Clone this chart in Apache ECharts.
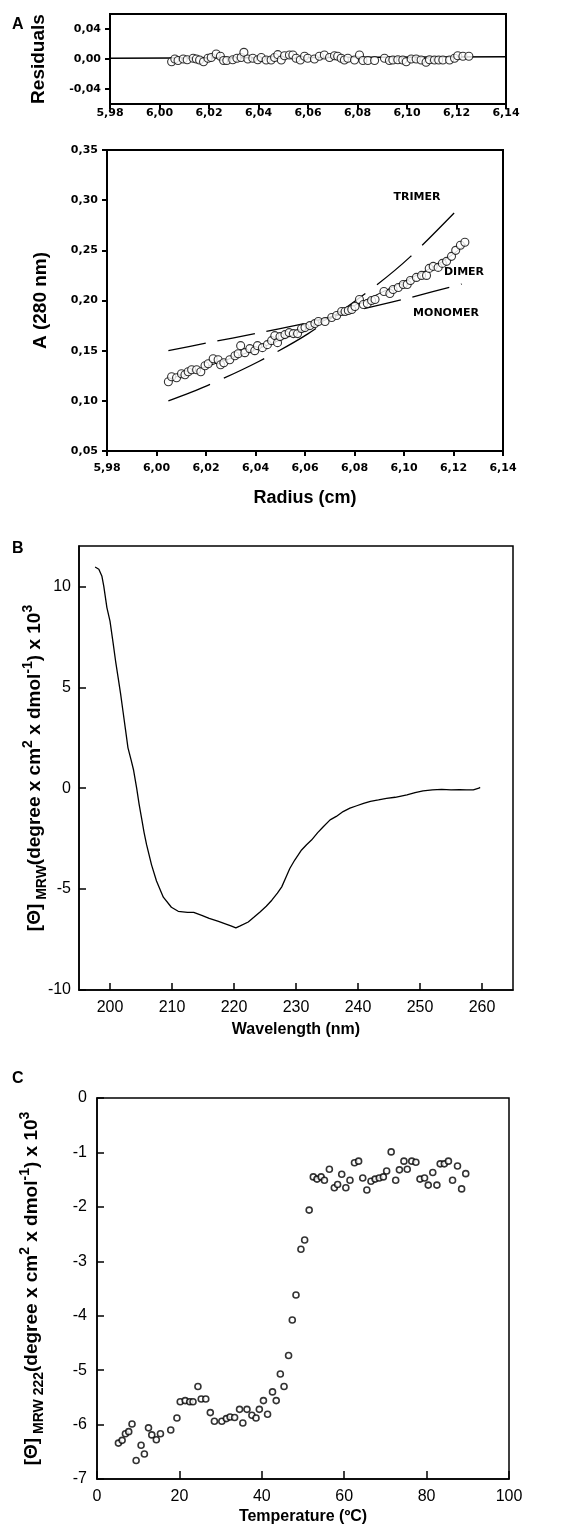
<!DOCTYPE html>
<html>
<head>
<meta charset="utf-8">
<script src="https://cdn.jsdelivr.net/npm/echarts@6/dist/echarts.min.js"></script>
<style>
html,body{margin:0;padding:0;background:#fff;}
#chart{width:570px;height:1526px;}
</style>
</head>
<body>
<div id="chart"></div>
<script>
// ---------- Panel A: residuals ----------
const resRadius = [6.0049,6.0062,6.0075,6.0096,6.0112,6.0136,6.0149,6.0162,6.0178,6.0196,6.0209,6.0229,6.0246,6.0259,6.0272,6.0296,6.0313,6.0330,6.0341,6.0357,6.0377,6.0397,6.0411,6.0431,6.0451,6.0465,6.0478,6.0492,6.0505,6.0525,6.0539,6.0552,6.0569,6.0586,6.0599,6.0626,6.0646,6.0666,6.0687,6.0707,6.0720,6.0734,6.0747,6.0761,6.0788,6.0808,6.0822,6.0842,6.0869,6.0909,6.0929,6.0943,6.0963,6.0983,6.0997,6.1017,6.1037,6.1057,6.1077,6.1091,6.1111,6.1128,6.1145,6.1172,6.1192,6.1205,6.1226,6.1250];
const resValues = [-0.0036,0,-0.002,0,-0.001,0.001,0,-0.0013,-0.0036,0.001,0.002,0.0067,0.0036,-0.002,-0.002,-0.001,0.001,0.002,0.0089,0,0.001,-0.001,0.002,-0.0013,-0.0013,0.002,0.0058,-0.0013,0.0044,0.0053,0.0053,0.001,-0.0013,0.0036,0.001,0,0.0036,0.0053,0.002,0.0044,0.0036,0.001,-0.0013,0.001,-0.0013,0.0053,-0.002,-0.002,-0.002,0.001,-0.002,-0.0013,-0.001,-0.0013,-0.0036,0,0,-0.0013,-0.0044,-0.001,-0.0013,-0.0013,-0.0013,-0.0013,0.001,0.0044,0.0036,0.0036];
const resLineRadius = [5.98, 6.14];
const resLineValues = [0.001, 0.003];
const resYTicks = [-0.04, 0, 0.04];
const resYTickLabels = ['-0,04', '0,00', '0,04'];

// ---------- Panel A: absorbance ----------
const absRadius = [6.0048,6.0061,6.0081,6.0101,6.0115,6.0128,6.0142,6.0162,6.0179,6.0196,6.0209,6.0229,6.0249,6.0259,6.0272,6.0296,6.0317,6.0330,6.0340,6.0357,6.0377,6.0397,6.0408,6.0428,6.0448,6.0465,6.0478,6.0489,6.0499,6.0519,6.0536,6.0553,6.0570,6.0586,6.0600,6.0620,6.0640,6.0654,6.0681,6.0708,6.0728,6.0748,6.0762,6.0775,6.0789,6.0802,6.0820,6.0836,6.0852,6.0869,6.0883,6.0919,6.0943,6.0956,6.0977,6.0997,6.1013,6.1026,6.1050,6.1071,6.1091,6.1102,6.1118,6.1138,6.1155,6.1172,6.1192,6.1209,6.1228,6.1246];
const absValues = [0.119,0.124,0.123,0.127,0.126,0.129,0.131,0.131,0.129,0.135,0.137,0.142,0.141,0.136,0.138,0.141,0.145,0.147,0.155,0.148,0.152,0.150,0.155,0.153,0.156,0.160,0.165,0.158,0.164,0.166,0.168,0.167,0.167,0.172,0.173,0.175,0.177,0.179,0.179,0.183,0.185,0.189,0.189,0.190,0.191,0.194,0.201,0.196,0.197,0.200,0.201,0.209,0.207,0.211,0.213,0.216,0.216,0.220,0.223,0.225,0.225,0.232,0.234,0.233,0.237,0.239,0.244,0.250,0.255,0.258];
const dimerRadius = [6.005, 6.020, 6.040, 6.060, 6.080, 6.100, 6.115, 6.125];
const dimerValues = [0.1215, 0.1340, 0.1510, 0.1710, 0.1950, 0.2190, 0.2380, 0.2560];
const monomerRadius = [6.0048, 6.0203, 6.0411, 6.0613, 6.0873, 6.1027, 6.1233];
const monomerValues = [0.150, 0.1576, 0.1676, 0.1780, 0.1940, 0.2030, 0.2164];
const trimerRadius = [6.0048, 6.0203, 6.0411, 6.0613, 6.0873, 6.1027, 6.1233];
const trimerValues = [0.100, 0.115, 0.139, 0.167, 0.2124, 0.2440, 0.295];
const aXTicks = [5.98, 6.00, 6.02, 6.04, 6.06, 6.08, 6.10, 6.12, 6.14];
const aXTickLabels = ['5,98', '6,00', '6,02', '6,04', '6,06', '6,08', '6,10', '6,12', '6,14'];
const absYTicks = [0.05, 0.10, 0.15, 0.20, 0.25, 0.30, 0.35];
const absYTickLabels = ['0,05', '0,10', '0,15', '0,20', '0,25', '0,30', '0,35'];

// ---------- Panel B: CD spectrum ----------
const cdWavelength = [197.6,198.2,198.7,199.0,199.5,200.0,200.5,200.9,201.3,201.7,202.1,202.5,202.9,203.4,203.8,204.3,204.7,205.1,205.5,205.9,206.7,207.5,208.6,209.9,211.0,212.5,213.5,214.8,216.0,217.5,218.6,219.5,220.3,221.0,222.3,223.2,224.2,225.2,226.1,227.0,227.7,228.4,229.0,229.8,230.9,231.7,232.5,233.5,234.4,235.5,236.5,237.6,238.7,239.8,240.9,242.0,243.3,244.6,246.0,247.9,249.2,250.5,252.0,253.5,255.0,256.4,257.5,258.6,259.5,259.7];
const cdTheta = [10.96,10.85,10.5,10.0,8.95,8.28,7.2,6.3,5.5,4.7,3.8,2.9,2.0,1.4,0.9,0.0,-0.8,-1.5,-2.2,-2.8,-3.8,-4.6,-5.4,-5.9,-6.1,-6.15,-6.15,-6.3,-6.45,-6.6,-6.72,-6.82,-6.92,-6.82,-6.63,-6.4,-6.13,-5.85,-5.55,-5.2,-4.89,-4.4,-3.98,-3.56,-3.06,-2.8,-2.57,-2.2,-1.91,-1.57,-1.4,-1.16,-0.99,-0.87,-0.75,-0.65,-0.58,-0.50,-0.45,-0.33,-0.22,-0.13,-0.08,-0.06,-0.08,-0.07,-0.08,-0.08,0.0,0.04];
const bXTicks = [200, 210, 220, 230, 240, 250, 260];
const bYTicks = [-10, -5, 0, 5, 10];

// ---------- Panel C: thermal denaturation ----------
const temperature = [5.2,6.1,6.9,7.7,8.5,9.5,10.7,11.5,12.5,13.3,14.4,15.4,17.9,19.4,20.2,21.4,22.5,23.3,24.5,25.3,26.4,27.5,28.5,30.3,31.4,32.3,33.4,34.6,35.4,36.4,37.6,38.6,39.4,40.4,41.4,42.6,43.5,44.5,45.4,46.5,47.4,48.3,49.5,50.4,51.5,52.5,53.4,54.4,55.2,56.4,57.6,58.4,59.4,60.4,61.4,62.5,63.5,64.5,65.5,66.5,67.5,68.5,69.5,70.3,71.4,72.5,73.4,74.5,75.3,76.4,77.4,78.4,79.5,80.4,81.5,82.5,83.3,84.3,85.3,86.3,87.5,88.5,89.5];
const theta222 = [-6.34,-6.29,-6.17,-6.13,-5.99,-6.66,-6.38,-6.54,-6.06,-6.19,-6.28,-6.17,-6.10,-5.88,-5.58,-5.56,-5.58,-5.58,-5.30,-5.53,-5.53,-5.78,-5.94,-5.94,-5.89,-5.86,-5.87,-5.72,-5.97,-5.72,-5.83,-5.88,-5.72,-5.56,-5.81,-5.40,-5.56,-5.07,-5.30,-4.73,-4.08,-3.62,-2.78,-2.61,-2.06,-1.45,-1.49,-1.45,-1.51,-1.31,-1.65,-1.59,-1.40,-1.65,-1.51,-1.19,-1.16,-1.47,-1.69,-1.53,-1.49,-1.47,-1.45,-1.34,-0.99,-1.51,-1.32,-1.16,-1.31,-1.16,-1.18,-1.49,-1.47,-1.60,-1.37,-1.60,-1.21,-1.21,-1.16,-1.51,-1.25,-1.67,-1.39];
const cXTicks = [0, 20, 40, 60, 80, 100];
const cYTicks = [-7, -6, -5, -4, -3, -2, -1, 0];

// ---------- helpers ----------
function zip(xs, ys) { const n = Math.min(xs.length, ys.length); const out = []; for (let i = 0; i < n; i++) out.push([xs[i], ys[i]]); return out; }
function lookup(vals, labels) { return function (v) { for (let i = 0; i < vals.length; i++) { if (Math.abs(vals[i] - v) < 1e-9) return labels[i]; } return ''; }; }

const ARIAL = '"Liberation Sans", Arial, sans-serif';
const VERD = '"DejaVu Sans", Verdana, sans-serif';

function valueAxis(o) {
  const lw = o.lw;
  return {
    type: 'value', gridIndex: o.grid, min: o.min, max: o.max,
    scale: true,
    splitLine: { show: false },
    axisLine: { show: true, onZero: false, lineStyle: { color: '#000', width: lw } },
    axisTick: { show: true, inside: o.inside, length: o.tickLen, customValues: o.ticks, lineStyle: { color: '#000', width: lw } },
    axisLabel: {
      show: true, customValues: o.ticks, margin: o.margin,
      color: '#000', fontSize: o.fontSize, fontWeight: o.fontWeight, fontFamily: o.fontFamily,
      formatter: o.formatter || function (v) { return String(v); }
    },
    name: o.name || '', nameLocation: 'middle', nameGap: o.nameGap || 0, nameRotate: o.nameRotate,
    nameMoveOverlap: false,
    nameTextStyle: o.nameTextStyle || {}
  };
}

const supStyle = { fontSize: 14, fontWeight: 'bold', fontFamily: ARIAL, color: '#000', verticalAlign: 'top', lineHeight: 14 };
const subStyle = { fontSize: 14, fontWeight: 'bold', fontFamily: ARIAL, color: '#000', verticalAlign: 'bottom', lineHeight: 14 };
const mainStyle = { fontSize: 19, fontWeight: 'bold', fontFamily: ARIAL, color: '#000', verticalAlign: 'middle', lineHeight: 28 };

const option = {
  backgroundColor: '#fff',
  animation: false,
  grid: [
    { left: 110, top: 14, width: 396, height: 90, show: true, borderColor: '#000', borderWidth: 2, containLabel: false, outerBoundsMode: 'none' },
    { left: 107, top: 150, width: 396, height: 301, show: true, borderColor: '#000', borderWidth: 2, containLabel: false, outerBoundsMode: 'none' },
    { left: 79, top: 546, width: 434, height: 444, show: true, borderColor: '#000', borderWidth: 1.5, containLabel: false, outerBoundsMode: 'none' },
    { left: 97, top: 1098, width: 412, height: 381, show: true, borderColor: '#000', borderWidth: 1.5, containLabel: false, outerBoundsMode: 'none' }
  ],
  xAxis: [
    valueAxis({ grid: 0, min: 5.98, max: 6.14, ticks: aXTicks, lw: 2, inside: false, tickLen: 5, margin: 4, fontSize: 11, fontWeight: 'bold', fontFamily: VERD, formatter: lookup(aXTicks, aXTickLabels) }),
    valueAxis({ grid: 1, min: 5.98, max: 6.14, ticks: aXTicks, lw: 2, inside: false, tickLen: 5, margin: 12, fontSize: 11, fontWeight: 'bold', fontFamily: VERD, formatter: lookup(aXTicks, aXTickLabels),
      name: 'Radius (cm)', nameGap: 38, nameTextStyle: { fontSize: 18, fontWeight: 'bold', fontFamily: ARIAL, color: '#000' } }),
    valueAxis({ grid: 2, min: 195, max: 265, ticks: bXTicks, lw: 1.5, inside: true, tickLen: 7, margin: 10, fontSize: 16, fontWeight: 'normal', fontFamily: ARIAL,
      name: 'Wavelength (nm)', nameGap: 32, nameTextStyle: { fontSize: 16, fontWeight: 'bold', fontFamily: ARIAL, color: '#000' } }),
    valueAxis({ grid: 3, min: 0, max: 100, ticks: cXTicks, lw: 1.5, inside: true, tickLen: 8, margin: 10, fontSize: 16, fontWeight: 'normal', fontFamily: ARIAL,
      name: 'Temperature (ºC)', nameGap: 30, nameTextStyle: { fontSize: 16, fontWeight: 'bold', fontFamily: ARIAL, color: '#000' } })
  ],
  yAxis: [
    valueAxis({ grid: 0, min: -0.06, max: 0.06, ticks: resYTicks, lw: 2, inside: false, tickLen: 5, margin: 9, fontSize: 11, fontWeight: 'bold', fontFamily: VERD, formatter: lookup(resYTicks, resYTickLabels),
      name: 'Residuals', nameGap: 62, nameRotate: 90, nameTextStyle: { fontSize: 19, fontWeight: 'bold', fontFamily: ARIAL, color: '#000' } }),
    valueAxis({ grid: 1, min: 0.05, max: 0.35, ticks: absYTicks, lw: 2, inside: false, tickLen: 5, margin: 9, fontSize: 11, fontWeight: 'bold', fontFamily: VERD, formatter: lookup(absYTicks, absYTickLabels),
      name: 'A (280 nm)', nameGap: 57, nameRotate: 90, nameTextStyle: { fontSize: 19, fontWeight: 'bold', fontFamily: ARIAL, color: '#000' } }),
    valueAxis({ grid: 2, min: -10, max: 12, ticks: bYTicks, lw: 1.5, inside: true, tickLen: 7, margin: 8, fontSize: 16, fontWeight: 'normal', fontFamily: ARIAL,
      name: '{m|[Θ]}{sub| MRW}{m|(degree x cm}{sup|2}{m| x dmol}{sup|-1}{m|) x 10}{sup|3}', nameGap: 30, nameRotate: 90,
      nameTextStyle: { rich: { m: mainStyle, sub: subStyle, sup: supStyle } } }),
    valueAxis({ grid: 3, min: -7, max: 0, ticks: cYTicks, lw: 1.5, inside: true, tickLen: 7, margin: 10, fontSize: 16, fontWeight: 'normal', fontFamily: ARIAL,
      name: '{m|[Θ]}{sub| MRW 222}{m|(degree x cm}{sup|2}{m| x dmol}{sup|-1}{m|) x 10}{sup|3}', nameGap: 51, nameRotate: 90,
      nameTextStyle: { rich: { m: mainStyle, sub: subStyle, sup: supStyle } } })
  ],
  series: [
    { type: 'line', xAxisIndex: 0, yAxisIndex: 0, data: zip(resLineRadius, resLineValues), symbol: 'none', lineStyle: { color: '#000', width: 1.3 }, z: 2 },
    { type: 'scatter', xAxisIndex: 0, yAxisIndex: 0, data: zip(resRadius, resValues), symbol: 'circle', symbolSize: 8,
      itemStyle: { color: '#fff', borderColor: '#000', borderWidth: 1.1 }, z: 3 },
    { type: 'line', xAxisIndex: 1, yAxisIndex: 1, data: zip(dimerRadius, dimerValues), symbol: 'none', smooth: 0.3, lineStyle: { color: '#000', width: 1 }, z: 2 },
    { type: 'line', xAxisIndex: 1, yAxisIndex: 1, data: zip(monomerRadius, monomerValues), symbol: 'none', smooth: 0.3, lineStyle: { color: '#000', width: 1.3, type: [38, 12] }, z: 2 },
    { type: 'line', xAxisIndex: 1, yAxisIndex: 1, data: zip(trimerRadius, trimerValues), symbol: 'none', smooth: 0.3, lineStyle: { color: '#000', width: 1.3, type: [45, 15] }, z: 2 },
    { type: 'scatter', xAxisIndex: 1, yAxisIndex: 1, data: zip(absRadius, absValues), symbol: 'circle', symbolSize: 8,
      itemStyle: { color: '#fff', borderColor: '#000', borderWidth: 1.1 }, z: 3 },
    { type: 'line', xAxisIndex: 2, yAxisIndex: 2, data: zip(cdWavelength, cdTheta), symbol: 'none', lineStyle: { color: '#000', width: 1.3 } },
    { type: 'scatter', xAxisIndex: 3, yAxisIndex: 3, data: zip(temperature, theta222), symbol: 'circle', symbolSize: 6,
      itemStyle: { color: '#fff', borderColor: '#000', borderWidth: 1.6 } }
  ],
  graphic: [
    { type: 'text', left: 12, top: 17, style: { text: 'A', font: 'bold 16px ' + ARIAL, fill: '#000' } },
    { type: 'text', left: 12, top: 541, style: { text: 'B', font: 'bold 16px ' + ARIAL, fill: '#000' } },
    { type: 'text', left: 12, top: 1071, style: { text: 'C', font: 'bold 16px ' + ARIAL, fill: '#000' } },
    { type: 'text', x: 417, y: 197, style: { text: 'TRIMER', font: 'bold 11px ' + VERD, fill: '#000', align: 'center', verticalAlign: 'middle', textAlign: 'center', textVerticalAlign: 'middle' } },
    { type: 'text', x: 464, y: 272, style: { text: 'DIMER', font: 'bold 11px ' + VERD, fill: '#000', align: 'center', verticalAlign: 'middle', textAlign: 'center', textVerticalAlign: 'middle' } },
    { type: 'text', x: 446, y: 313, style: { text: 'MONOMER', font: 'bold 11px ' + VERD, fill: '#000', align: 'center', verticalAlign: 'middle', textAlign: 'center', textVerticalAlign: 'middle' } }
  ]
};

const chart = echarts.init(document.getElementById('chart'), null, { renderer: 'canvas' });
chart.setOption(option);
</script>
</body>
</html>
